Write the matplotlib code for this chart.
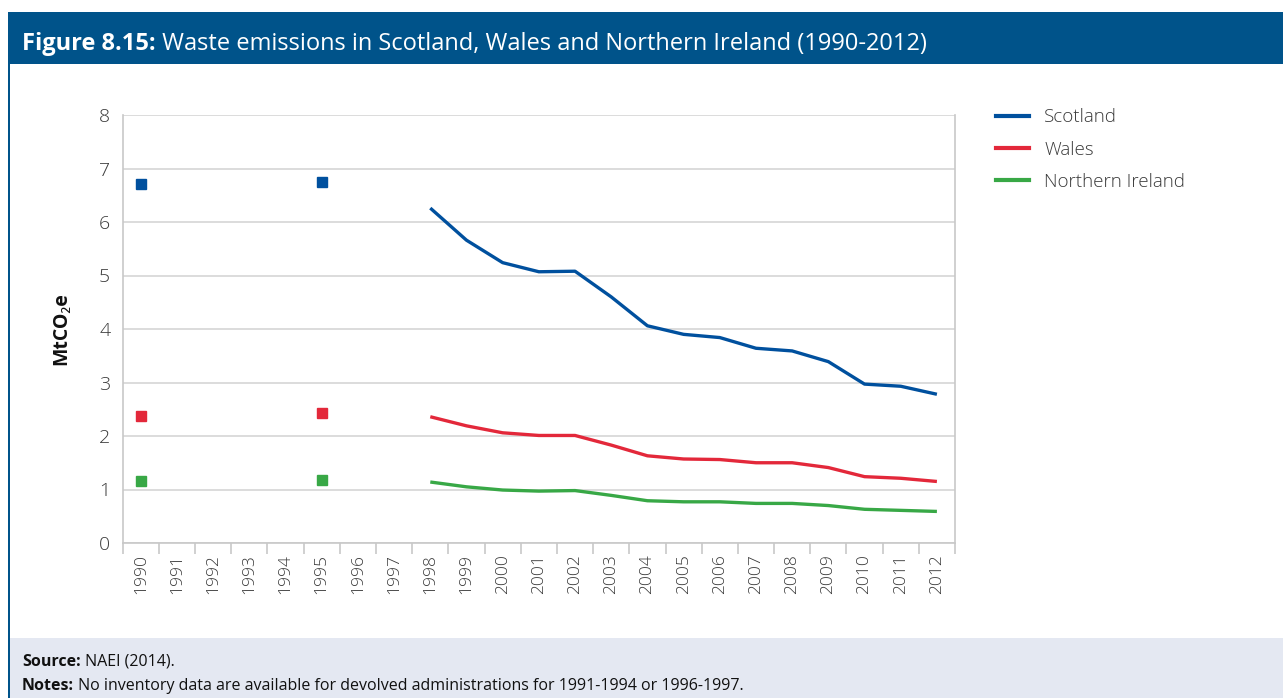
import matplotlib
matplotlib.use("Agg")
import matplotlib.pyplot as plt
from matplotlib.patches import Rectangle
from matplotlib.lines import Line2D
import numpy as np

# ---- data -------------------------------------------------------------
years = [str(y) for y in range(1990, 2013)]
scotland = [6.71, None, None, None, None, 6.75, None, None,
            6.26, 5.66, 5.24, 5.07, 5.08, 4.60, 4.06, 3.90, 3.84,
            3.64, 3.59, 3.39, 2.97, 2.93, 2.78]
wales = [2.38, None, None, None, None, 2.43, None, None,
         2.36, 2.19, 2.06, 2.01, 2.01, 1.83, 1.63, 1.57, 1.56,
         1.50, 1.50, 1.41, 1.24, 1.21, 1.15]
n_ireland = [1.15, None, None, None, None, 1.18, None, None,
             1.14, 1.05, 0.99, 0.97, 0.98, 0.89, 0.79, 0.77, 0.77,
             0.74, 0.74, 0.70, 0.63, 0.61, 0.59]
series_names = ["Scotland", "Wales", "Northern Ireland"]
series_colors = ["#00509E", "#E3283A", "#38A846"]
y_ticks = [0, 1, 2, 3, 4, 5, 6, 7, 8]

title_bold = "Figure 8.15:"
title_rest = " Waste emissions in Scotland, Wales and Northern Ireland (1990-2012)"
source_bold = "Source:"
source_rest = " NAEI (2014)."
notes_bold = "Notes:"
notes_rest = " No inventory data are available for devolved administrations for 1991-1994 or 1996-1997."

FONT = ["Open Sans", "Noto Sans", "DejaVu Sans"]
plt.rcParams["font.family"] = FONT

W, H = 1283, 698
fig = plt.figure(figsize=(W / 100, H / 100), dpi=100)
fig.patch.set_facecolor("white")


def px(x, y):
    """pixel coords (from top-left) -> figure fraction"""
    return x / W, 1 - y / H


# header band, left frame line and footer band
fig.add_artist(Rectangle(px(8, 64), (W - 8) / W, 52 / H, transform=fig.transFigure,
                         facecolor="#00538A", edgecolor="none", zorder=0))
fig.add_artist(Rectangle(px(8, 698), 1.6 / W, (698 - 64) / H, transform=fig.transFigure,
                         facecolor="#00538A", edgecolor="none", zorder=0))
fig.add_artist(Rectangle(px(9.6, 698), (W - 9.6) / W, (698 - 638) / H,
                         transform=fig.transFigure, facecolor="#E4E8F2",
                         edgecolor="none", zorder=0))


def two_part_text(x, y, bold, rest, size, color):
    t1 = fig.text(*px(x, y), bold, fontsize=size, fontweight="bold", color=color,
                  ha="left", va="baseline", family=FONT)
    r = fig.canvas.get_renderer()
    bb = t1.get_window_extent(renderer=r)
    fig.text(bb.x1 / W, 1 - y / H, rest, fontsize=size, color=color,
             ha="left", va="baseline", family=FONT)


two_part_text(22, 50, title_bold, title_rest, 17, "white")
two_part_text(22, 666, source_bold, source_rest, 11.5, "#111111")
two_part_text(22, 690, notes_bold, notes_rest, 11.5, "#111111")

# ---- plot area ---------------------------------------------------------
left, right, top, bottom = 122.7, 955, 115, 543
ax = fig.add_axes([left / W, 1 - bottom / H, (right - left) / W, (bottom - top) / H])
x = np.arange(len(years))

for vals, name, col in zip([scotland, wales, n_ireland], series_names, series_colors):
    arr = np.array([np.nan if v is None else v for v in vals], dtype=float)
    # isolated years shown as square markers
    iso = [i for i in range(len(arr))
           if not np.isnan(arr[i])
           and (i == 0 or np.isnan(arr[i - 1]))
           and (i == len(arr) - 1 or np.isnan(arr[i + 1]))]
    ax.plot(x, arr, color=col, lw=2.4, solid_capstyle="butt", zorder=3)
    ax.plot(x[iso], arr[iso], ls="none", marker="s", ms=7.5, color=col, zorder=3)

ax.set_xlim(-0.5, len(years) - 0.5)
ax.set_ylim(0, 8)
ax.set_yticks(y_ticks)
ax.set_yticklabels([str(v) for v in y_ticks], fontsize=14, color="#3A3A3A",
                   fontweight="light")
ax.set_xticks(x)
ax.set_xticklabels(years, rotation=90, fontsize=12.5, color="#3A3A3A",
                   fontweight="light")
ax.set_xticks(np.arange(-0.5, len(years)), minor=True)
ax.tick_params(axis="x", which="major", length=0, pad=8)
ax.tick_params(axis="x", which="minor", length=8, color="#C8C8C8", width=1.2)
ax.tick_params(axis="y", length=0, pad=9)
ax.grid(axis="y", color="#D9D9D9", lw=1.3, zorder=0)
ax.set_axisbelow(True)
for s in ["left", "bottom", "right"]:
    ax.spines[s].set_color("#C8C8C8")
    ax.spines[s].set_linewidth(1.2)
ax.spines["top"].set_visible(False)

ax.set_ylabel("MtCO\u2082e", fontsize=14, fontweight="bold", color="#111111",
              labelpad=20, family=FONT)

# legend
handles = [Line2D([0], [0], color=c, lw=3) for c in series_colors]
fig.legend(handles, series_names, loc="upper left",
           bbox_to_anchor=px(989, 101), frameon=False,
           handlelength=1.75, handletextpad=0.8, labelspacing=0.76,
           borderaxespad=0, borderpad=0.4,
           labelcolor="#3A3A3A", prop={"family": FONT, "size": 13.5, "weight": "light"})

fig.savefig("out.png", dpi=100, facecolor="white")
